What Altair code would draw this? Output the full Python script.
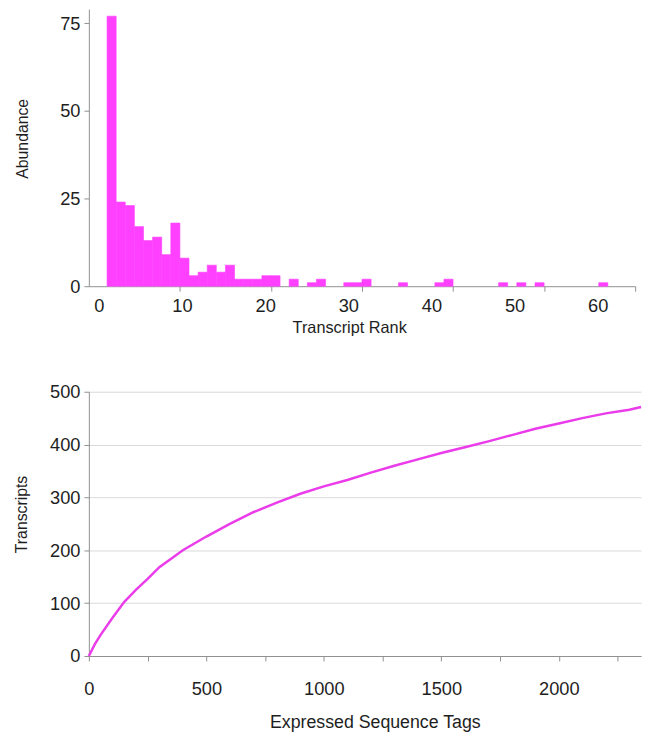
import altair as alt
import pandas as pd

# ---- top chart: abundance per transcript rank ----
ranks = list(range(1, 56))
abundance = [77, 24, 23, 17, 13, 14, 9, 18, 8, 3,
             4, 6, 4, 6, 2, 2, 2, 3, 3, 0,
             2, 0, 1, 2, 0, 0, 1, 1, 2, 0,
             0, 0, 1, 0, 0, 0, 1, 2, 0, 0,
             0, 0, 0, 1, 0, 1, 0, 1, 0, 0,
             0, 0, 0, 0, 1]
rank_labels = [0, 10, 20, 30, 40, 50, 60]
abund_ticks = [0, 25, 50, 75]

# ---- bottom chart: transcripts vs ESTs ----
ests = [0, 25, 50, 100, 150, 200, 250, 300, 400, 500, 600, 700, 800, 900,
        1000, 1100, 1200, 1300, 1400, 1500, 1600, 1700, 1800, 1900, 2000,
        2100, 2200, 2300, 2350]
transcripts = [0, 22, 40, 72, 102, 125, 146, 168, 200, 226, 250, 272, 290, 307,
               321, 333, 347, 360, 372, 384, 395, 406, 418, 430, 440,
               450, 459, 466, 471]
est_ticks = list(range(0, 2251, 250))
tr_ticks = [0, 100, 200, 300, 400, 500]

MAG = "#FF40FF"
LINE = "#EA3CEA"
FONT = "Liberation Sans"
AX = "#8f8f8f"
TXT = "#1e1e1e"
LBL = 18.5
YT = 16

top_df = pd.DataFrame({"rank": ranks, "abundance": abundance})
lab_df = pd.DataFrame({"t": rank_labels})
bot_df = pd.DataFrame({"ests": ests, "transcripts": transcripts})

bars = alt.Chart(top_df).mark_bar(color=MAG, stroke=MAG, strokeWidth=0.6).transform_filter(
    "datum.abundance > 0"
).transform_calculate(
    rank_end="datum.rank + 1"
).encode(
    x=alt.X("rank:Q", scale=alt.Scale(domain=[-1, 59], nice=False, zero=False),
            axis=alt.Axis(values=[9, 19, 29, 39, 49, 59], labels=False, title=None,
                          grid=False, orient="bottom", tickSize=5,
                          domainColor=AX, tickColor=AX)),
    x2="rank_end:Q",
    y=alt.Y("abundance:Q", scale=alt.Scale(domain=[0, 79], nice=False),
            axis=alt.Axis(values=abund_ticks, title="Abundance", grid=False,
                          tickSize=5, domainColor=AX, tickColor=AX,
                          labelFontSize=LBL, titleFontSize=YT, titleFontWeight="normal",
                          labelPadding=4, titlePadding=30, labelColor=TXT, titleColor=TXT,
                          labelFont=FONT, titleFont=FONT, titleY=131)),
    y2=alt.datum(0),
)

labels_layer = alt.Chart(lab_df).mark_point(opacity=0).encode(
    x=alt.X("t:Q", scale=alt.Scale(domain=[-1.2, 64.5], nice=False, zero=False),
            axis=alt.Axis(values=rank_labels, orient="bottom", ticks=False, domain=False,
                          grid=False, title="Transcript Rank", labelFontSize=LBL,
                          titleFontSize=16.5, titleFontWeight="normal", labelPadding=11,
                          titlePadding=4, labelColor=TXT, titleColor=TXT,
                          labelFont=FONT, titleFont=FONT, labelFlush=False,
                          titleX=264)),
)

top = alt.layer(bars, labels_layer).resolve_scale(x="independent").resolve_axis(
    x="independent").properties(width=554, height=281)

bottom = alt.Chart(bot_df).mark_line(color=LINE, strokeWidth=2.5).encode(
    x=alt.X("ests:Q", scale=alt.Scale(domain=[0, 2350], nice=False),
            axis=alt.Axis(values=est_ticks, format="d",
                          labelExpr="datum.value % 500 == 0 ? datum.label : ''",
                          title="Expressed Sequence Tags", grid=False, tickSize=5,
                          domainColor=AX, tickColor=AX, labelFontSize=LBL,
                          titleFontSize=18, titleFontWeight="normal", labelPadding=19,
                          titlePadding=16, labelColor=TXT, titleColor=TXT,
                          labelFont=FONT, titleFont=FONT, labelFlush=False,
                          titleX=290)),
    y=alt.Y("transcripts:Q", scale=alt.Scale(domain=[0, 500], nice=False),
            axis=alt.Axis(values=tr_ticks, title="Transcripts", grid=True,
                          gridColor="#d8d8d8", tickSize=5, domainColor=AX, tickColor=AX,
                          labelFontSize=LBL, titleFontSize=YT, titleFontWeight="normal",
                          labelPadding=4, titlePadding=20, labelColor=TXT, titleColor=TXT,
                          labelFont=FONT, titleFont=FONT, titleY=124)),
).properties(width=560, height=268)

chart = alt.vconcat(top, bottom, spacing=48).properties(
    padding={"left": 6, "top": -4, "right": 0, "bottom": 0}
).configure_view(stroke=None)

chart.save("out.html", embed_options={"renderer": "svg", "actions": False})
